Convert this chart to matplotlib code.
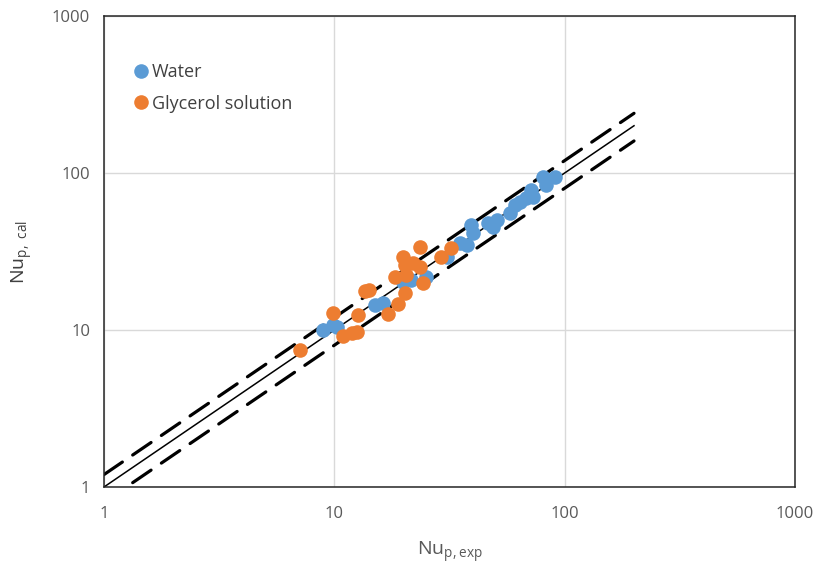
import matplotlib
matplotlib.use('Agg')
import matplotlib.pyplot as plt
import numpy as np

plt.rcParams['font.family'] = ['Open Sans', 'DejaVu Sans']
plt.rcParams['lines.scale_dashes'] = False

# data (Nu_exp, Nu_cal)
water_exp = [8.9, 9.9, 10.3, 15.0, 16.3, 19.9, 21.6, 25.1, 30.7, 35.1, 37.5, 39.4, 40.1,
             46.5, 49.0, 50.7, 57.7, 60.7, 63.8, 68.0, 71.6, 72.8, 80.5, 83.2, 90.5]
water_cal = [10.0, 10.8, 10.5, 14.4, 14.8, 20.3, 20.8, 21.9, 29.3, 35.7, 34.8, 46.6, 41.3,
             47.8, 45.4, 50.1, 55.4, 62.8, 65.6, 69.0, 77.9, 70.7, 94.7, 83.9, 94.7]
gly_exp = [7.1, 9.9, 10.9, 11.9, 12.5, 12.7, 13.6, 14.2, 17.1, 18.3, 18.9, 19.9, 20.2,
           20.2, 20.5, 22.0, 23.5, 23.5, 24.2, 29.1, 32.2]
gly_cal = [7.5, 12.9, 9.1, 9.6, 9.7, 12.5, 17.8, 18.1, 12.6, 21.7, 14.6, 29.3, 25.9,
           17.1, 22.3, 26.6, 25.3, 33.9, 19.8, 29.3, 33.1]

# parity line and +/-20 % bands
line_x = [1, 200]
band_hi = 1.2
band_lo = 0.8

blue = '#5B9BD5'
orange = '#ED7D31'
grey = '#595959'

fig = plt.figure(figsize=(8.21, 5.70), dpi=100)
ax = fig.add_axes([104/821, 1-487/570, (795-104)/821, (487-16)/570])

ax.set_xscale('log')
ax.set_yscale('log')
ax.set_xlim(1, 1000)
ax.set_ylim(1, 1000)

lx = np.array(line_x, dtype=float)
ax.plot(lx, lx, color='black', lw=1.1, zorder=2)
ax.plot(lx, band_hi*lx, color='black', lw=2.3, dashes=(16, 9), dash_capstyle='round', zorder=2)
ax.plot(lx, band_lo*lx, color='black', lw=2.3, dashes=(16, 9), dash_capstyle='round', zorder=2)

ax.plot(water_exp, water_cal, 'o', color=blue, ms=10.5, mec='none', label='Water', zorder=3)
ax.plot(gly_exp, gly_cal, 'o', color=orange, ms=10.5, mec='none', label='Glycerol solution', zorder=3)

ax.grid(True, which='major', color='#D9D9D9', lw=1)
ax.set_axisbelow(True)
ax.minorticks_off()
ax.set_xticks([1, 10, 100, 1000])
ax.set_xticklabels(['1', '10', '100', '1000'])
ax.set_yticks([1, 10, 100, 1000])
ax.set_yticklabels(['1', '10', '100', '1000'])
ax.tick_params(length=0, labelsize=12, labelcolor=grey)
ax.tick_params(axis='x', pad=14)
ax.tick_params(axis='y', pad=10)
for sp in ax.spines.values():
    sp.set_color('#262626')
    sp.set_linewidth(1.1)

ax.set_xlabel(r'Nu$_{\mathregular{p,exp}}$', fontsize=14, color=grey, labelpad=12)
ax.set_ylabel(r'Nu$_{\mathregular{p,\ cal}}$', fontsize=14, color='#404040', labelpad=12)

ax.legend(loc='upper left', bbox_to_anchor=(0.035, 0.915), frameon=False, fontsize=13,
          handlelength=0.6, handletextpad=0.3, labelspacing=0.75, labelcolor='#404040',
          borderaxespad=0)

fig.savefig('out.png', dpi=100)
